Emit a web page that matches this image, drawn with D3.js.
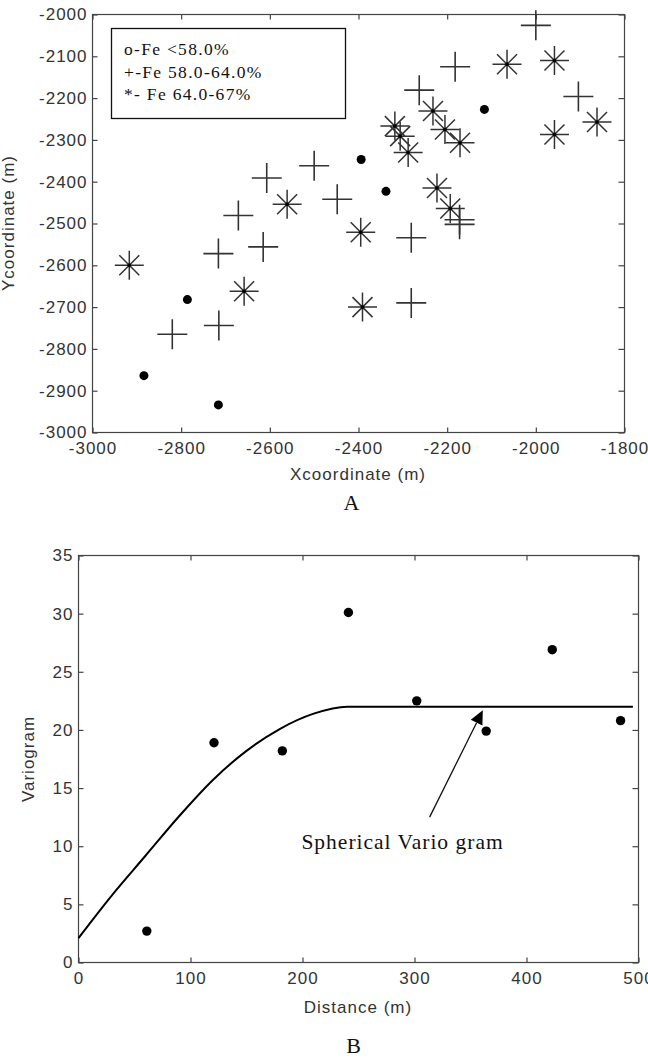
<!DOCTYPE html>
<html>
<head>
<meta charset="utf-8">
<script src="https://cdn.jsdelivr.net/npm/d3@7"></script>
<style>
  body { margin: 0; background: #fff; }
  .tick text { font-family: "Liberation Sans", Arial, sans-serif; font-size: 17px; letter-spacing: 1px; fill: #333; }
  .tick line { stroke: #444; stroke-width: 1.2; }
</style>
</head>
<body>
<div id="chart"></div>
<script>
// sample locations (x, y in m) grouped by Fe grade
const lowFe = [[-2116,-2227],[-2394,-2347],[-2338,-2423],[-2786,-2682],[-2884,-2864],[-2716,-2934]];
const midFe = [[-2000,-2026],[-2182,-2125],[-2263,-2181],[-1904,-2196],[-2500,-2362],[-2448,-2442],
               [-2281,-2534],[-2172,-2491],[-2172,-2502],[-2607,-2391],[-2671,-2481],[-2716,-2572],
               [-2615,-2556],[-2820,-2765],[-2715,-2744],[-2281,-2690]];
const highFe = [[-2065,-2119],[-1958,-2110],[-2232,-2231],[-2318,-2267],[-2306,-2291],[-2205,-2275],
                [-2171,-2307],[-2288,-2330],[-1862,-2257],[-1958,-2287],[-2223,-2415],[-2193,-2464],
                [-2395,-2521],[-2561,-2454],[-2917,-2600],[-2658,-2662],[-2391,-2700]];
const legendLines = ["o-Fe <58.0%", "+-Fe 58.0-64.0%", "*- Fe 64.0-67%"];

// experimental variogram
const lagDist = [61, 121, 182, 241, 302, 364, 423, 484];
const lagGamma = [2.7, 18.9, 18.2, 30.1, 22.5, 19.9, 26.9, 20.8];
// fitted spherical model
const modelDist = [0, 30, 60, 90, 120, 150, 180, 210, 240, 495];
const modelGamma = [2.1, 5.8, 9.2, 12.6, 15.7, 18.2, 20.1, 21.4, 22.0, 22.0];

const xTicksA = d3.range(-3000, -1799, 200),
      yTicksA = d3.range(-3000, -1999, 100),
      xTicksB = d3.range(0, 501, 100),
      yTicksB = d3.range(0, 36, 5);

const width = 648, height = 1058;
const sans = '"Liberation Sans", Arial, sans-serif',
      serif = '"Liberation Serif", "Times New Roman", serif';

let svg = d3.select("#chart").append("svg")
    .attr("width", width)
    .attr("height", height)
    .style("display", "block");

// plain hyphen, like the matlab labels
const fmt = d => String(d);

// draws a boxed matlab-style frame with inward ticks
function frame(x, y, xt, yt) {
  const [x0, x1] = x.range(), [y0, y1] = y.range();
  svg.append("g").attr("transform", "translate(0," + y0 + ")")
    .call(d3.axisBottom(x).tickValues(xt).tickSize(-5).tickPadding(9).tickFormat(fmt))
    .call(g => g.select(".domain").remove());
  svg.append("g").attr("transform", "translate(0," + y1 + ")")
    .call(d3.axisTop(x).tickValues(xt).tickSize(-5).tickFormat(""))
    .call(g => g.select(".domain").remove());
  svg.append("g").attr("transform", "translate(" + x0 + ",0)")
    .call(d3.axisLeft(y).tickValues(yt).tickSize(-5).tickPadding(5).tickFormat(fmt))
    .call(g => g.select(".domain").remove());
  svg.append("g").attr("transform", "translate(" + x1 + ",0)")
    .call(d3.axisRight(y).tickValues(yt).tickSize(-6).tickFormat(""))
    .call(g => g.select(".domain").remove());
  svg.append("rect")
    .attr("x", x0).attr("y", y1)
    .attr("width", x1 - x0).attr("height", y0 - y1)
    .attr("fill", "none").attr("stroke", "#444").attr("stroke-width", 1.2);
}

function label(txt, x, y, opts) {
  return svg.append("text")
    .attr("x", x).attr("y", y)
    .attr("text-anchor", "middle")
    .style("font-family", opts.serif ? serif : sans)
    .style("font-size", opts.size + "px")
    .style("letter-spacing", "1px")
    .attr("fill", opts.fill || "#333")
    .text(txt);
}

// ---------- A : sample map ----------
const xA = d3.scaleLinear().domain([-3000, -1800]).range([92.5, 624.5]);
const yA = d3.scaleLinear().domain([-3000, -2000]).range([432.5, 14.5]);
frame(xA, yA, xTicksA, yTicksA);

svg.append("g").selectAll("circle")
  .data(lowFe).enter().append("circle")
    .attr("cx", d => xA(d[0])).attr("cy", d => yA(d[1]))
    .attr("r", 4.5).attr("fill", "#000");

svg.append("g").selectAll("path")
  .data(midFe).enter().append("path")
    .attr("transform", d => "translate(" + xA(d[0]) + "," + yA(d[1]) + ")")
    .attr("d", "M-15,0H15M0,-15V15")
    .attr("stroke", "#333").attr("stroke-width", 1.6).attr("fill", "none");

let stars = svg.append("g").selectAll("g")
  .data(highFe).enter().append("g")
    .attr("transform", d => "translate(" + xA(d[0]) + "," + yA(d[1]) + ")");
stars.append("path")
    .attr("d", "M-14.5,0H14.5M0,-14.5V14.5M-10,-10L10,10M-10,10L10,-10")
    .attr("stroke", "#333").attr("stroke-width", 1.5).attr("fill", "none");
stars.append("circle").attr("r", 1.8).attr("fill", "#000");

// legend box
svg.append("rect")
  .attr("x", 111.5).attr("y", 28.5).attr("width", 234).attr("height", 90)
  .attr("fill", "#fff").attr("stroke", "#111").attr("stroke-width", 1.3);
legendLines.forEach((t, i) => {
  label(t, 124, 55 + i * 22.5, {serif: true, size: 17.5, fill: "#111"})
    .attr("text-anchor", "start")
    .style("letter-spacing", "1.3px");
});

label("Xcoordinate (m)", 358, 480, {size: 17});
label("Ycoordinate (m)", 0, 0, {size: 17})
  .attr("transform", "translate(14,223) rotate(-90)");
label("A", 352, 510, {serif: true, size: 22, fill: "#111"});

// ---------- B : variogram ----------
const xB = d3.scaleLinear().domain([0, 500]).range([78.5, 638.5]);
const yB = d3.scaleLinear().domain([0, 35]).range([962.5, 555.5]);
frame(xB, yB, xTicksB, yTicksB);

const model = modelDist.map((d, i) => [d, modelGamma[i]]);
svg.append("path")
  .datum(model)
  .attr("fill", "none").attr("stroke", "#000").attr("stroke-width", 2)
  .attr("d", d3.line().x(d => xB(d[0])).y(d => yB(d[1])).curve(d3.curveMonotoneX));

svg.append("g").selectAll("circle")
  .data(lagDist).enter().append("circle")
    .attr("cx", d => xB(d)).attr("cy", (d, i) => yB(lagGamma[i]))
    .attr("r", 4.7).attr("fill", "#000");

// arrow to the model curve
const tail = [xB(313.5), yB(12.5)], tip = [xB(361), yB(21.7)];
const ang = Math.atan2(tip[1] - tail[1], tip[0] - tail[0]);
const hl = 14, hw = 6.5;
const base = [tip[0] - hl * Math.cos(ang), tip[1] - hl * Math.sin(ang)];
svg.append("line")
  .attr("x1", tail[0]).attr("y1", tail[1]).attr("x2", base[0]).attr("y2", base[1])
  .attr("stroke", "#111").attr("stroke-width", 1.3);
svg.append("path")
  .attr("d", "M" + tip[0] + "," + tip[1] +
    "L" + (base[0] + hw * Math.sin(ang)) + "," + (base[1] - hw * Math.cos(ang)) +
    "L" + (base[0] - hw * Math.sin(ang)) + "," + (base[1] + hw * Math.cos(ang)) + "Z")
  .attr("fill", "#000");

label("Spherical Vario gram", xB(199), 849, {serif: true, size: 21.5, fill: "#111"})
  .attr("text-anchor", "start");

label("Distance (m)", 358, 1013, {size: 17});
label("Variogram", 0, 0, {size: 17})
  .attr("transform", "translate(34,759) rotate(-90)");
label("B", 354, 1053, {serif: true, size: 22, fill: "#111"});
</script>
</body>
</html>
